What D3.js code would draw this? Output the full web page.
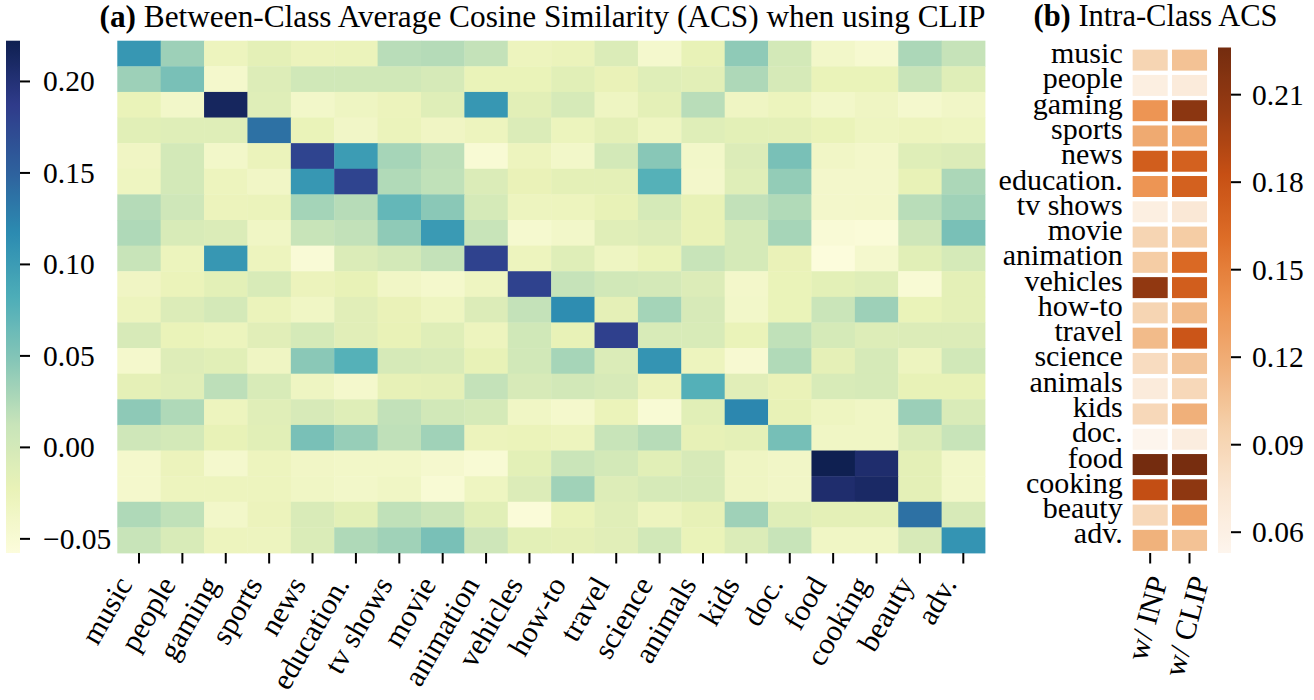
<!DOCTYPE html>
<html><head><meta charset="utf-8">
<script src="https://cdn.jsdelivr.net/npm/d3@7"></script>
<style>
html,body{margin:0;padding:0;background:#fff;}
svg{display:block;font-family:"Liberation Serif","Times New Roman",Times,serif;}
</style></head><body>
<svg id="chart" width="1314" height="700"></svg>
<script>
// ---------------- data ----------------
const categories = ["music","people","gaming","sports","news","education.","tv shows","movie","animation","vehicles","how-to","travel","science","animals","kids","doc.","food","cooking","beauty","adv."];

// Between-class ACS (CLIP), rows = categories, columns = categories
const acsClip = [
 [ 0.105, 0.035,-0.030,-0.018,-0.028,-0.027, 0.020, 0.022, 0.014,-0.030,-0.027,-0.008,-0.044,-0.022, 0.042, 0.000,-0.040,-0.047, 0.027, 0.013],
 [ 0.035, 0.055,-0.043,-0.010, 0.003, 0.003, 0.003,-0.003,-0.025,-0.025,-0.015,-0.024,-0.012,-0.016, 0.026,-0.003,-0.025,-0.025, 0.012,-0.012],
 [-0.025,-0.040, 0.214,-0.012,-0.040,-0.033,-0.028,-0.012, 0.105,-0.016,-0.003,-0.033,-0.018, 0.020,-0.034,-0.029,-0.040,-0.034,-0.044,-0.038],
 [-0.015,-0.012,-0.012, 0.138,-0.025,-0.038,-0.027,-0.035,-0.030,-0.008,-0.029,-0.018,-0.032,-0.012,-0.017,-0.018,-0.025,-0.032,-0.030,-0.032],
 [-0.035, 0.000,-0.040,-0.027, 0.178, 0.100, 0.030, 0.018,-0.050,-0.030,-0.040, 0.000, 0.046,-0.040,-0.009, 0.055,-0.037,-0.041,-0.012,-0.009],
 [-0.032, 0.000,-0.030,-0.037, 0.105, 0.178, 0.024, 0.016,-0.008,-0.024,-0.018,-0.018, 0.077,-0.042,-0.012, 0.040,-0.042,-0.042,-0.022, 0.027],
 [ 0.022, 0.005,-0.028,-0.027, 0.031, 0.021, 0.068, 0.045,-0.002,-0.031,-0.030,-0.022,-0.002,-0.022, 0.015, 0.024,-0.042,-0.041, 0.020, 0.033],
 [ 0.025,-0.005,-0.008,-0.036, 0.012, 0.015, 0.042, 0.102, 0.012,-0.046,-0.040,-0.013,-0.009,-0.023,-0.002, 0.030,-0.052,-0.054, 0.006, 0.055],
 [ 0.012,-0.029, 0.105,-0.030,-0.052,-0.008, 0.000, 0.014, 0.180,-0.030,-0.012,-0.033,-0.025, 0.012,-0.002,-0.024,-0.058,-0.044,-0.015,-0.002],
 [-0.035,-0.026,-0.017,-0.005,-0.028,-0.022,-0.037,-0.043,-0.032, 0.180, 0.013, 0.002,-0.001,-0.009,-0.041,-0.025,-0.017,-0.012,-0.050,-0.018],
 [-0.030,-0.009,-0.001,-0.027,-0.036,-0.014,-0.024,-0.032,-0.009, 0.014, 0.115,-0.019, 0.031,-0.004,-0.040,-0.025, 0.010, 0.035,-0.025,-0.018],
 [-0.004,-0.025,-0.029,-0.014,-0.002,-0.014,-0.023,-0.012,-0.030, 0.003,-0.022, 0.182,-0.005,-0.005,-0.025, 0.016,-0.002,-0.010,-0.009,-0.009],
 [-0.043,-0.011,-0.015,-0.034, 0.045, 0.077,-0.003,-0.006,-0.022, 0.002, 0.030,-0.008, 0.108,-0.030,-0.048, 0.024,-0.019,-0.003,-0.031, 0.002],
 [-0.019,-0.013, 0.018,-0.005,-0.033,-0.043,-0.021,-0.019, 0.014,-0.004, 0.001,-0.004,-0.028, 0.078,-0.014,-0.024,-0.005,-0.003,-0.022,-0.022],
 [ 0.043, 0.025,-0.030,-0.013,-0.004,-0.012, 0.015, 0.002,-0.002,-0.036,-0.043,-0.026,-0.050,-0.015, 0.120,-0.022,-0.032,-0.036, 0.036,-0.006],
 [ 0.005, 0.000,-0.022,-0.015, 0.055, 0.038, 0.017, 0.033,-0.028,-0.026,-0.030, 0.012, 0.021,-0.021,-0.018, 0.057,-0.036,-0.036,-0.008, 0.012],
 [-0.043,-0.028,-0.044,-0.030,-0.037,-0.039,-0.039,-0.045,-0.050,-0.017, 0.010, 0.000,-0.015,-0.004,-0.034,-0.038, 0.222, 0.205,-0.018,-0.040],
 [-0.043,-0.030,-0.030,-0.030,-0.036,-0.040,-0.036,-0.050,-0.032,-0.009, 0.033,-0.010,-0.003,-0.003,-0.034,-0.038, 0.205, 0.210,-0.018,-0.040],
 [ 0.025, 0.016,-0.040,-0.028,-0.006,-0.017, 0.016, 0.009,-0.015,-0.054,-0.025,-0.013,-0.031,-0.021, 0.034,-0.012,-0.018,-0.018, 0.138,-0.004],
 [ 0.012,-0.005,-0.030,-0.031,-0.007, 0.025, 0.033, 0.055, 0.006,-0.017,-0.019,-0.014, 0.002,-0.025,-0.008, 0.012,-0.036,-0.036,-0.004, 0.108]
];

// Intra-class ACS
const intraColumns = ["w/ INP", "w/ CLIP"];
const intraINP  = [0.091,0.062,0.136,0.121,0.172,0.136,0.062,0.091,0.098,0.208,0.091,0.110,0.084,0.067,0.088,0.0527,0.226,0.184,0.088,0.116];
const intraCLIP = [0.105,0.067,0.212,0.124,0.170,0.170,0.071,0.098,0.164,0.172,0.110,0.178,0.103,0.088,0.117,0.064,0.224,0.210,0.126,0.105];

const betweenTicks = [-0.05, 0.00, 0.05, 0.10, 0.15, 0.20];
const intraTicks = [0.06, 0.09, 0.12, 0.15, 0.18, 0.21];

const ylgnbu  = ["#ffffd9","#edf8b1","#c7e9b4","#7fcdbb","#41b6c4","#1d91c0","#225ea8","#253494","#081d58"];
const oranges = ["#fff5eb","#fee6ce","#fdd0a2","#fdae6b","#fd8d3c","#f16913","#d94801","#a63603","#7f2704"];

// ---------------- helpers ----------------
function soften(c) { const h = d3.hsl(c); h.s *= 0.82; return h.formatHex(); }
function cmap(colors, ext) {
  const [lo, hi] = ext;
  return d3.scaleLinear()
    .domain(colors.map((c, i) => lo + (hi - lo) * i / (colors.length - 1)))
    .range(colors.map(soften)).interpolate(d3.interpolateRgb).clamp(true);
}
const svg = d3.select("#chart");
svg.append("rect").attr("width", 1314).attr("height", 700).attr("fill", "#fff");
const defs = svg.append("defs");
const FS = 30, TFS = 29.5;

function gradient(id, scale, ext) {
  const g = defs.append("linearGradient").attr("id", id)
    .attr("x1", 0).attr("y1", 1).attr("x2", 0).attr("y2", 0);
  const n = 64;
  for (let i = 0; i <= n; i++) {
    const v = ext[0] + (ext[1] - ext[0]) * i / n;
    g.append("stop").attr("offset", (i / n * 100) + "%").attr("stop-color", scale(v));
  }
}
function cleanAxis(ax) {
  ax.attr("font-family", null).attr("font-size", null);
  ax.select(".domain").remove();
  ax.selectAll(".tick line").attr("stroke", "#000").attr("stroke-width", 2);
  ax.selectAll(".tick text").attr("fill", "#000");
}

// rotated tick label placement (matplotlib-like: va=top)
function placeLabels(sel, angle, ha, top) {
  const th = angle * Math.PI / 180, c = Math.cos(th), s = Math.sin(th);
  sel.each(function () {
    const t = d3.select(this);
    const W = this.getComputedTextLength();
    const a = 0.69 * FS, d = 0.22 * FS;
    let px, py;
    if (ha === "right") {
      t.attr("text-anchor", "end");
      px = -s * d;
      py = top + c * a;
    } else {
      t.attr("text-anchor", "middle");
      px = s * (a - d) / 2;
      py = top + s * W / 2 + c * a;
    }
    t.attr("x", 0).attr("y", 0).attr("dy", 0)
     .attr("transform", `translate(${px},${py}) rotate(${-angle})`);
  });
}

// ---------------- (a) between-class heatmap ----------------
const A = { x0: 117.3, x1: 985, y0: 40.7, y1: 553 };
const extA = d3.extent(acsClip.flat());
const colA = cmap(ylgnbu, extA);
const xA = d3.scaleBand().domain(categories).range([A.x0, A.x1]);
const yA = d3.scaleBand().domain(categories).range([A.y0, A.y1]);

const cells = [];
acsClip.forEach((row, i) => row.forEach((v, j) => cells.push({ r: categories[i], c: categories[j], v })));
svg.append("g").selectAll("rect").data(cells).join("rect")
  .attr("x", d => xA(d.c)).attr("y", d => yA(d.r))
  .attr("width", xA.bandwidth() + 0.4).attr("height", yA.bandwidth() + 0.4)
  .attr("fill", d => colA(d.v));

const axA = svg.append("g").attr("transform", `translate(0,${A.y1})`)
  .call(d3.axisBottom(xA).tickSize(10.5).tickPadding(0));
cleanAxis(axA);
axA.selectAll(".tick text").attr("font-size", FS);
placeLabels(axA.selectAll(".tick text"), 60, "right", 21);

svg.append("text").attr("x", 542.5).attr("y", 27).attr("text-anchor", "middle")
  .attr("font-size", 31.3).attr("fill", "#000")
  .call(t => { t.append("tspan").attr("font-weight", "bold").text("(a)");
               t.append("tspan").text(" Between-Class Average Cosine Similarity (ACS) when using CLIP"); });

// colorbar (a)
const CA = { x: 6, w: 14 };
const cbA = d3.scaleLinear().domain(extA).range([A.y1, A.y0]);
gradient("gA", colA, extA);
svg.append("rect").attr("x", CA.x).attr("y", A.y0).attr("width", CA.w).attr("height", A.y1 - A.y0)
  .attr("fill", "url(#gA)");
const axCA = svg.append("g").attr("transform", `translate(${CA.x + CA.w},0)`)
  .call(d3.axisRight(cbA).tickValues(betweenTicks).tickFormat(d3.format(".2f")).tickSize(10).tickPadding(13));
cleanAxis(axCA);
axCA.selectAll(".tick text").attr("font-size", TFS).attr("dy", "0.34em");

// ---------------- (b) intra-class heatmap ----------------
const B = { x0: 1130.5, x1: 1209.2, y0: 47.5, y1: 553 };
const extB = d3.extent(intraINP.concat(intraCLIP));
const colB = cmap(oranges, extB);
const xB = d3.scaleBand().domain(intraColumns).range([B.x0, B.x1]);
const yB = d3.scaleBand().domain(categories).range([B.y0, B.y1]);
const cellsB = [];
categories.forEach((cat, i) => {
  cellsB.push({ r: cat, c: intraColumns[0], v: intraINP[i] });
  cellsB.push({ r: cat, c: intraColumns[1], v: intraCLIP[i] });
});
const gap = 2.15;
svg.append("g").selectAll("rect").data(cellsB).join("rect")
  .attr("x", d => xB(d.c) + gap).attr("y", d => yB(d.r) + gap)
  .attr("width", xB.bandwidth() - 2 * gap).attr("height", yB.bandwidth() - 2 * gap)
  .attr("fill", d => colB(d.v));

const axBy = svg.append("g").attr("transform", `translate(${B.x0},0)`)
  .call(d3.axisLeft(yB).tickSize(0).tickPadding(7.8));
cleanAxis(axBy);
axBy.selectAll(".tick text").attr("font-size", FS).attr("dy", "0.1em");

const axBx = svg.append("g").attr("transform", `translate(0,${B.y1})`)
  .call(d3.axisBottom(xB).tickSize(10.5).tickPadding(0));
cleanAxis(axBx);
axBx.selectAll(".tick text").attr("font-size", FS);
placeLabels(axBx.selectAll(".tick text"), 75, "center", 21);

svg.append("text").attr("x", 1155.5).attr("y", 26).attr("text-anchor", "middle")
  .attr("font-size", 30.5).attr("fill", "#000")
  .call(t => { t.append("tspan").attr("font-weight", "bold").text("(b)");
               t.append("tspan").text(" Intra-Class ACS"); });

// colorbar (b)
const CB = { x: 1218, w: 13 };
const cbB = d3.scaleLinear().domain(extB).range([B.y1, B.y0]);
gradient("gB", colB, extB);
svg.append("rect").attr("x", CB.x).attr("y", B.y0).attr("width", CB.w).attr("height", B.y1 - B.y0)
  .attr("fill", "url(#gB)");
const axCB = svg.append("g").attr("transform", `translate(${CB.x + CB.w},0)`)
  .call(d3.axisRight(cbB).tickValues(intraTicks).tickFormat(d3.format(".2f")).tickSize(10).tickPadding(11));
cleanAxis(axCB);
axCB.selectAll(".tick text").attr("font-size", TFS).attr("dy", "0.34em");
</script>
</body></html>
